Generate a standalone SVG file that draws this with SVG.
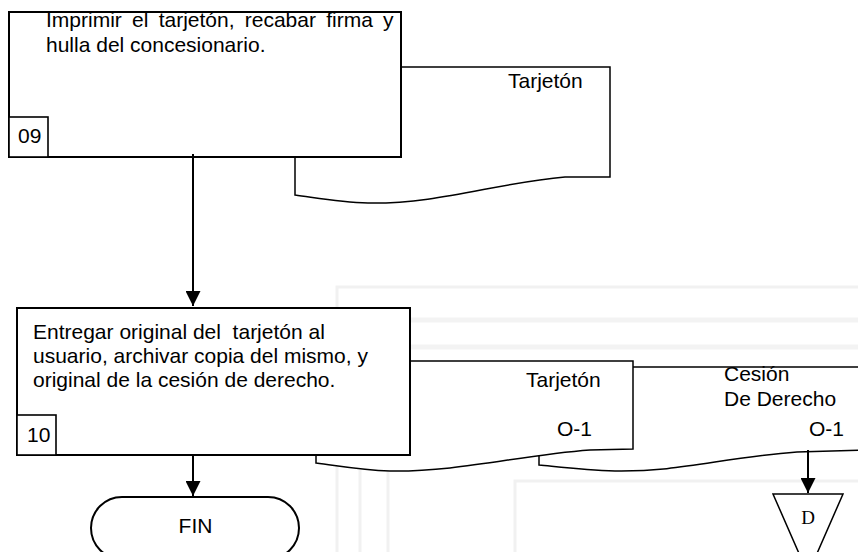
<svg xmlns="http://www.w3.org/2000/svg" width="858" height="552" viewBox="0 0 858 552">
<defs>
<style>
.box{fill:#fff;stroke:#000;stroke-width:2}
.num{fill:#fff;stroke:#000;stroke-width:1.6}
.doc{fill:#fff;stroke:#000;stroke-width:1.5}
.t{font-family:"Liberation Sans",Arial,sans-serif;font-size:21px;fill:#000}
.wm{fill:none;stroke:#f1f1f1;stroke-width:3}
.wm2{fill:none;stroke:#f3f3f3;stroke-width:5}
.line{stroke:#000;stroke-width:2;fill:none}
</style>
<marker id="ah" viewBox="0 0 10 10" refX="10" refY="5" markerWidth="7.5" markerHeight="7.5" markerUnits="strokeWidth" orient="auto">
<path d="M0,0 L10,5 L0,10 Z" fill="#000"/>
</marker>
</defs>
<rect width="858" height="552" fill="#fff"/>
<g id="watermark">
<path class="wm" d="M337,552 L337,287 L858,287"/>
<path class="wm2" d="M410,320 L858,320 M410,347 L858,347"/>
<path class="wm" d="M360,470 L360,552 M388,470 L388,552"/>
<path class="wm" d="M515,552 L515,481 L858,481"/>
</g>
<g id="doc-tarjeton-1">
<path class="doc" d="M295,67 L610,67 L610,177 L565,177 C495,183 440,204 368,203 C340,202 318,198 295,195 Z"/>
<text class="t" x="508" y="88">Tarjetón</text>
</g>
<g id="node-09">
<rect class="box" x="9" y="12" width="392" height="145"/>
<text class="t" x="46" y="27" word-spacing="4.4">Imprimir el tarjetón, recabar firma y</text>
<text class="t" x="46" y="52">hulla del concesionario.</text>
<rect class="num" x="9" y="117" width="39" height="40"/>
<text class="t" x="18" y="143">09</text>
</g>
<g id="doc-cesion">
<path class="doc" d="M539,367 L870,367 L870,450 L797,452 C720,458 680,472 615,471 C585,470 560,467 539,465 Z"/>
<text class="t" x="724" y="381">Cesión</text>
<text class="t" x="724" y="406">De Derecho</text>
<text class="t" x="809" y="436">O-1</text>
</g>
<g id="doc-tarjeton-2">
<path class="doc" d="M316,361 L633,361 L633,449 L590,450 C520,455 460,472 390,471 C360,470 340,466 316,463 Z"/>
<text class="t" x="526" y="387">Tarjetón</text>
<text class="t" x="557" y="436">O-1</text>
</g>
<g id="node-10">
<rect class="box" x="17" y="308" width="393" height="147"/>
<text class="t" x="33" y="339" xml:space="preserve">Entregar original del  tarjetón al</text>
<text class="t" x="33" y="363">usuario, archivar copia del mismo, y</text>
<text class="t" x="33" y="387">original de la cesión de derecho.</text>
<rect class="num" x="17" y="415" width="39" height="40"/>
<text class="t" x="27" y="442">10</text>
</g>
<g id="node-fin">
<rect class="box" x="91" y="497" width="208" height="62" rx="31" ry="31"/>
<text class="t" x="195.5" y="533" text-anchor="middle">FIN</text>
</g>
<g id="node-d">
<path class="doc" d="M773,494 L843,494 L808,574 Z"/>
<text x="808" y="524" text-anchor="middle" style="font-family:'Liberation Serif','Times New Roman',serif;font-size:19px">D</text>
</g>
<g id="connectors">
<line class="line" x1="193" y1="154" x2="193" y2="306" marker-end="url(#ah)"/>
<line class="line" x1="193" y1="455" x2="193" y2="496" marker-end="url(#ah)"/>
<line class="line" x1="808" y1="450" x2="808" y2="493" marker-end="url(#ah)"/>
</g>
</svg>
